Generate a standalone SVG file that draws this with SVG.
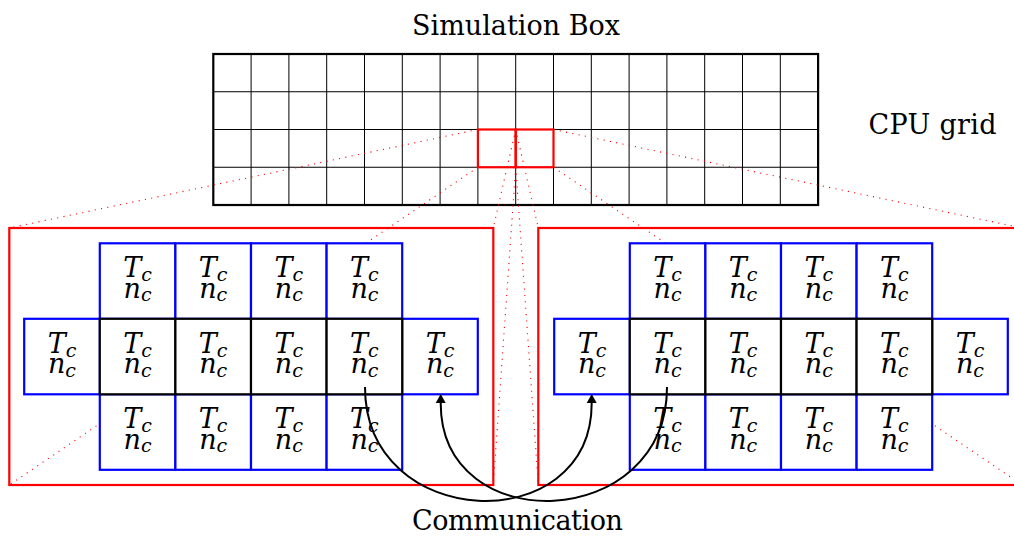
<svg xmlns="http://www.w3.org/2000/svg" width="1014" height="536" viewBox="0 0 1014 536">
<style>
.lbl{font-family:'DejaVu Serif',serif;font-size:27px;fill:#000;text-anchor:middle}
.m{font-family:'DejaVu Serif',serif;font-style:italic;font-size:27px;text-anchor:middle}
.sub{font-size:19px}
.b .m{fill:#0000ff}
.k .m{fill:#000}
.b rect{fill:#fff;stroke:#0000ff;stroke-width:2.2}
.k rect{fill:#fff;stroke:#000;stroke-width:2.2}
.thin{stroke:#000;stroke-width:1;fill:none}
.dot{stroke:#ff0000;stroke-width:1.1;stroke-dasharray:1.1 5.3;fill:none}
.red{stroke:#ff0000;stroke-width:2.2;fill:none}
.arr{stroke:#000;stroke-width:2;fill:none;marker-end:url(#ah)}
</style>
<defs>
<marker id="ah" markerUnits="userSpaceOnUse" viewBox="-1 -6 11 12" markerWidth="11" markerHeight="12" refX="0" refY="0" orient="auto">
<path d="M0,-5 L9,0 L0,5 z" fill="#000"/>
</marker>
<g id="cellT">
<text class="m" x="0" y="34">T<tspan class="sub" dy="4">c</tspan></text>
<text class="m" x="0" y="54.7">n<tspan class="sub" dy="3.5">c</tspan></text>
</g>
</defs>

<g id="simulation-box">
<g class="thin">
<path d="M251.1,54V205M288.9,54V205M326.7,54V205M364.5,54V205M402.3,54V205M440.1,54V205M477.9,54V205M515.7,54V205M553.5,54V205M591.3,54V205M629.1,54V205M666.9,54V205M704.7,54V205M742.5,54V205M780.3,54V205"/>
<path d="M213.3,91.75H818.1M213.3,129.5H818.1M213.3,167.25H818.1"/>
</g>
<rect x="213.3" y="54" width="604.8" height="151" fill="none" stroke="#000" stroke-width="2.2"/>
</g>

<g id="zoom-lines">
<path class="dot" d="M477.9,129.5L9.3,228M477.9,167.25L9.3,485M515.7,129.5L493.3,228M515.7,167.25L493.3,485M515.7,129.5L538.3,228M515.7,167.25L538.3,485M553.5,129.5L1022.3,228M553.5,167.25L1022.3,485"/>
</g>

<g id="cpu-cells">
<rect class="red" x="477.9" y="129.5" width="37.8" height="37.75"/>
<rect class="red" x="515.7" y="129.5" width="37.8" height="37.75"/>
</g>

<g id="left-panel">
<rect class="red" x="9.3" y="228" width="484" height="257"/>
<g class="b">
<g id="L-t1" transform="translate(99.8,243.3)"><rect width="75.6" height="75.5"/><use href="#cellT" x="37.8"/></g>
<g id="L-t2" transform="translate(175.4,243.3)"><rect width="75.6" height="75.5"/><use href="#cellT" x="37.8"/></g>
<g id="L-t3" transform="translate(251,243.3)"><rect width="75.6" height="75.5"/><use href="#cellT" x="37.8"/></g>
<g id="L-t4" transform="translate(326.6,243.3)"><rect width="75.6" height="75.5"/><use href="#cellT" x="37.8"/></g>
<g id="L-m0" transform="translate(24.2,318.8)"><rect width="75.6" height="75.5"/><use href="#cellT" x="37.8"/></g>
<g id="L-m5" transform="translate(402.2,318.8)"><rect width="75.6" height="75.5"/><use href="#cellT" x="37.8"/></g>
<g id="L-b1" transform="translate(99.8,394.3)"><rect width="75.6" height="75.5"/><use href="#cellT" x="37.8"/></g>
<g id="L-b2" transform="translate(175.4,394.3)"><rect width="75.6" height="75.5"/><use href="#cellT" x="37.8"/></g>
<g id="L-b3" transform="translate(251,394.3)"><rect width="75.6" height="75.5"/><use href="#cellT" x="37.8"/></g>
<g id="L-b4" transform="translate(326.6,394.3)"><rect width="75.6" height="75.5"/><use href="#cellT" x="37.8"/></g>
</g>
<g class="k">
<g id="L-m1" transform="translate(99.8,318.8)"><rect width="75.6" height="75.5"/><use href="#cellT" x="37.8"/></g>
<g id="L-m2" transform="translate(175.4,318.8)"><rect width="75.6" height="75.5"/><use href="#cellT" x="37.8"/></g>
<g id="L-m3" transform="translate(251,318.8)"><rect width="75.6" height="75.5"/><use href="#cellT" x="37.8"/></g>
<g id="L-m4" transform="translate(326.6,318.8)"><rect width="75.6" height="75.5"/><use href="#cellT" x="37.8"/></g>
</g>
</g>

<g id="right-panel">
<rect class="red" x="538.3" y="228" width="484" height="257"/>
<g class="b">
<g id="R-t1" transform="translate(629.8,243.3)"><rect width="75.6" height="75.5"/><use href="#cellT" x="37.8"/></g>
<g id="R-t2" transform="translate(705.4,243.3)"><rect width="75.6" height="75.5"/><use href="#cellT" x="37.8"/></g>
<g id="R-t3" transform="translate(781,243.3)"><rect width="75.6" height="75.5"/><use href="#cellT" x="37.8"/></g>
<g id="R-t4" transform="translate(856.6,243.3)"><rect width="75.6" height="75.5"/><use href="#cellT" x="37.8"/></g>
<g id="R-m0" transform="translate(554.2,318.8)"><rect width="75.6" height="75.5"/><use href="#cellT" x="37.8"/></g>
<g id="R-m5" transform="translate(932.2,318.8)"><rect width="75.6" height="75.5"/><use href="#cellT" x="37.8"/></g>
<g id="R-b1" transform="translate(629.8,394.3)"><rect width="75.6" height="75.5"/><use href="#cellT" x="37.8"/></g>
<g id="R-b2" transform="translate(705.4,394.3)"><rect width="75.6" height="75.5"/><use href="#cellT" x="37.8"/></g>
<g id="R-b3" transform="translate(781,394.3)"><rect width="75.6" height="75.5"/><use href="#cellT" x="37.8"/></g>
<g id="R-b4" transform="translate(856.6,394.3)"><rect width="75.6" height="75.5"/><use href="#cellT" x="37.8"/></g>
</g>
<g class="k">
<g id="R-m1" transform="translate(629.8,318.8)"><rect width="75.6" height="75.5"/><use href="#cellT" x="37.8"/></g>
<g id="R-m2" transform="translate(705.4,318.8)"><rect width="75.6" height="75.5"/><use href="#cellT" x="37.8"/></g>
<g id="R-m3" transform="translate(781,318.8)"><rect width="75.6" height="75.5"/><use href="#cellT" x="37.8"/></g>
<g id="R-m4" transform="translate(856.6,318.8)"><rect width="75.6" height="75.5"/><use href="#cellT" x="37.8"/></g>
</g>
</g>

<g id="connectors">
<path class="arr" d="M365,387 C365,532 591.7,540 591.7,403"/>
<path class="arr" d="M667,387 C667,532 440.7,540 440.7,403"/>
</g>

<g id="labels">
<text class="lbl" x="516" y="35" textLength="208">Simulation Box</text>
<text class="lbl" x="932.5" y="134.3" textLength="128">CPU grid</text>
<text class="lbl" x="517.5" y="529.5" textLength="211">Communication</text>
</g>
</svg>
